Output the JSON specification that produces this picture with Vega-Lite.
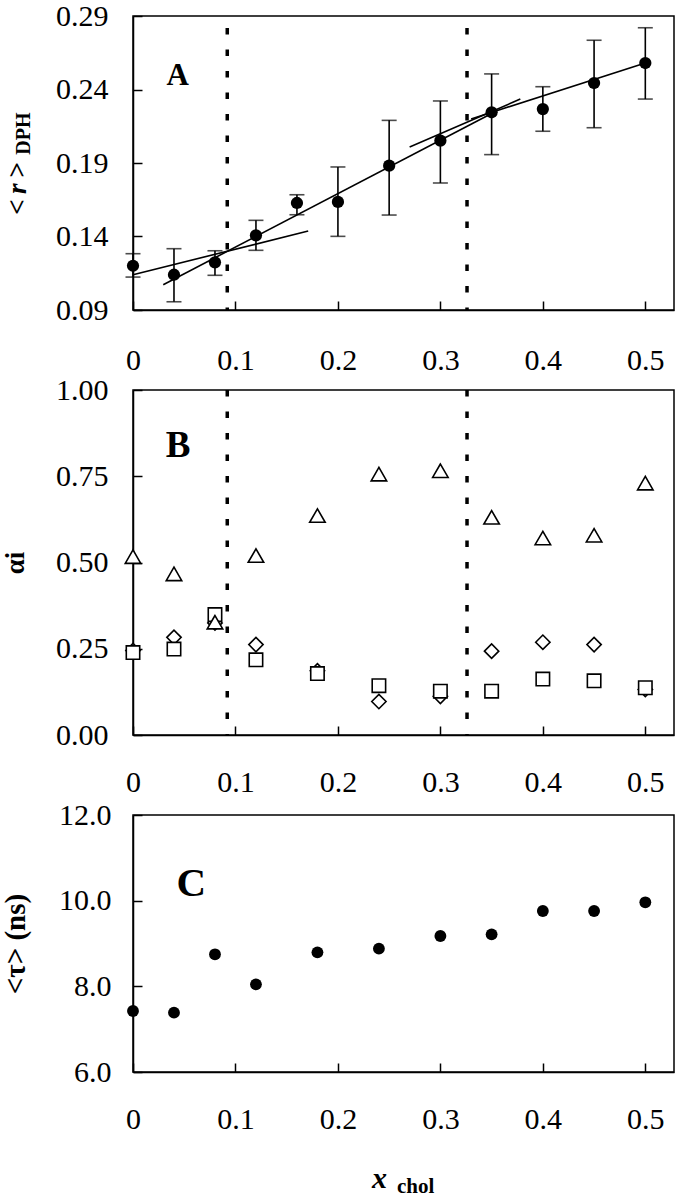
{
  "$schema": "https://vega.github.io/schema/vega-lite/v6.json",
  "background": "white",
  "autosize": {"type": "pad"},
  "padding": {"left": 0, "top": 0, "right": 5, "bottom": 0},
  "config": {
    "view": {"stroke": "black", "strokeWidth": 1.5},
    "axis": {
      "grid": false,
      "domainColor": "black", "domainWidth": 1.5,
      "tickColor": "black", "tickWidth": 1.5, "tickSize": -9,
      "labelFont": "Liberation Serif", "labelFontSize": 30, "labelColor": "black",
      "titleFont": "Liberation Serif", "titleFontSize": 27, "titleColor": "black", "titleFontWeight": "bold",
      "labelFlush": false, "labelOverlap": false
    }
  },
  "datasets": {
    "ptsA": [
      {"x": 0, "r": 0.1201, "lo": 0.1124, "hi": 0.1283},
      {"x": 0.04, "r": 0.114, "lo": 0.0956, "hi": 0.1317},
      {"x": 0.08, "r": 0.1224, "lo": 0.1136, "hi": 0.1303},
      {"x": 0.12, "r": 0.1408, "lo": 0.1306, "hi": 0.151},
      {"x": 0.16, "r": 0.1628, "lo": 0.1548, "hi": 0.1684},
      {"x": 0.2, "r": 0.1635, "lo": 0.1401, "hi": 0.1873},
      {"x": 0.25, "r": 0.1882, "lo": 0.1546, "hi": 0.219},
      {"x": 0.3, "r": 0.2052, "lo": 0.1764, "hi": 0.2322},
      {"x": 0.35, "r": 0.2245, "lo": 0.1957, "hi": 0.2506},
      {"x": 0.4, "r": 0.2267, "lo": 0.2116, "hi": 0.2419},
      {"x": 0.45, "r": 0.2444, "lo": 0.214, "hi": 0.2735},
      {"x": 0.5, "r": 0.258, "lo": 0.2335, "hi": 0.282}
    ],
    "fitA": [
      {"seg": 1, "x": 0, "r": 0.114},
      {"seg": 1, "x": 0.171, "r": 0.1437},
      {"seg": 2, "x": 0.0295, "r": 0.1072},
      {"seg": 2, "x": 0.35, "r": 0.2237},
      {"seg": 3, "x": 0.27, "r": 0.2009},
      {"seg": 3, "x": 0.378, "r": 0.2335},
      {"seg": 4, "x": 0.33, "r": 0.22},
      {"seg": 4, "x": 0.5, "r": 0.258}
    ],
    "vlines": [{"xv": 0.092}, {"xv": 0.326}],
    "alpha": [
      {"x": 0, "s": "tri", "a": 0.517}, {"x": 0.04, "s": "tri", "a": 0.467}, {"x": 0.08, "s": "tri", "a": 0.327},
      {"x": 0.12, "s": "tri", "a": 0.52}, {"x": 0.18, "s": "tri", "a": 0.636}, {"x": 0.24, "s": "tri", "a": 0.756},
      {"x": 0.3, "s": "tri", "a": 0.766}, {"x": 0.35, "s": "tri", "a": 0.631}, {"x": 0.4, "s": "tri", "a": 0.571},
      {"x": 0.45, "s": "tri", "a": 0.579}, {"x": 0.5, "s": "tri", "a": 0.73},
      {"x": 0, "s": "dia", "a": 0.245}, {"x": 0.04, "s": "dia", "a": 0.283}, {"x": 0.08, "s": "dia", "a": 0.325},
      {"x": 0.12, "s": "dia", "a": 0.262}, {"x": 0.18, "s": "dia", "a": 0.186}, {"x": 0.24, "s": "dia", "a": 0.097},
      {"x": 0.3, "s": "dia", "a": 0.112}, {"x": 0.35, "s": "dia", "a": 0.243}, {"x": 0.4, "s": "dia", "a": 0.269},
      {"x": 0.45, "s": "dia", "a": 0.262}, {"x": 0.5, "s": "dia", "a": 0.132},
      {"x": 0, "s": "sq", "a": 0.239}, {"x": 0.04, "s": "sq", "a": 0.249}, {"x": 0.08, "s": "sq", "a": 0.349},
      {"x": 0.12, "s": "sq", "a": 0.218}, {"x": 0.18, "s": "sq", "a": 0.178}, {"x": 0.24, "s": "sq", "a": 0.143},
      {"x": 0.3, "s": "sq", "a": 0.127}, {"x": 0.35, "s": "sq", "a": 0.127}, {"x": 0.4, "s": "sq", "a": 0.162},
      {"x": 0.45, "s": "sq", "a": 0.157}, {"x": 0.5, "s": "sq", "a": 0.137}
    ],
    "tau": [
      {"x": 0, "t": 7.424}, {"x": 0.04, "t": 7.385}, {"x": 0.08, "t": 8.748}, {"x": 0.12, "t": 8.047},
      {"x": 0.18, "t": 8.794}, {"x": 0.24, "t": 8.879}, {"x": 0.3, "t": 9.175}, {"x": 0.35, "t": 9.214},
      {"x": 0.4, "t": 9.759}, {"x": 0.45, "t": 9.759}, {"x": 0.5, "t": 9.962}
    ],
    "one": [{}]
  },
  "bounds": "flush",
  "spacing": 80,
  "vconcat": [
    {
      "width": 541, "height": 294,
      "layer": [
        {
          "data": {"name": "vlines"},
          "mark": {"type": "rule", "color": "black", "strokeWidth": 3.5, "strokeDash": [6.5, 15], "strokeDashOffset": 9.5},
          "encoding": {
            "x": {"field": "xv", "type": "quantitative", "scale": {"domain": [0, 0.528], "nice": false},
                  "axis": {"values": [0, 0.1, 0.2, 0.3, 0.4, 0.5], "format": "~g", "title": null, "labelPadding": 44}}
          }
        },
        {
          "data": {"name": "fitA"},
          "mark": {"type": "line", "color": "black", "strokeWidth": 1.6},
          "encoding": {
            "x": {"field": "x", "type": "quantitative"},
            "y": {"field": "r", "type": "quantitative", "scale": {"domain": [0.09, 0.29], "nice": false, "zero": false},
                  "axis": {"values": [0.09, 0.14, 0.19, 0.24, 0.29], "format": ".2f", "title": null, "labelPadding": 34}},
            "detail": {"field": "seg", "type": "nominal"}
          }
        },
        {
          "data": {"name": "ptsA"},
          "mark": {"type": "rule", "color": "black", "strokeWidth": 1.6},
          "encoding": {
            "x": {"field": "x", "type": "quantitative"},
            "y": {"field": "lo", "type": "quantitative"},
            "y2": {"field": "hi"}
          }
        },
        {
          "data": {"name": "ptsA"},
          "mark": {"type": "tick", "orient": "horizontal", "color": "black", "size": 15, "thickness": 1.6},
          "encoding": {"x": {"field": "x", "type": "quantitative"}, "y": {"field": "lo", "type": "quantitative"}}
        },
        {
          "data": {"name": "ptsA"},
          "mark": {"type": "tick", "orient": "horizontal", "color": "black", "size": 15, "thickness": 1.6},
          "encoding": {"x": {"field": "x", "type": "quantitative"}, "y": {"field": "hi", "type": "quantitative"}}
        },
        {
          "data": {"name": "ptsA"},
          "mark": {"type": "point", "shape": "circle", "filled": true, "color": "black", "opacity": 1, "size": 150},
          "encoding": {"x": {"field": "x", "type": "quantitative"}, "y": {"field": "r", "type": "quantitative"}}
        },
        {
          "data": {"name": "one"},
          "mark": {"type": "text", "text": "A", "font": "Liberation Serif", "fontWeight": "bold", "fontSize": 31, "align": "center", "baseline": "alphabetic", "color": "black"},
          "encoding": {"x": {"datum": 0.0436}, "y": {"datum": 0.2428}}
        },
        {
          "data": {"name": "one"},
          "mark": {"type": "text", "text": "<", "font": "Liberation Serif", "fontWeight": "bold", "fontSize": 27, "align": "left", "baseline": "alphabetic", "angle": -90, "color": "black"},
          "encoding": {"x": {"datum": -0.1044}, "y": {"datum": 0.1548}}
        },
        {
          "data": {"name": "one"},
          "mark": {"type": "text", "text": "r", "font": "Liberation Serif", "fontWeight": "bold", "fontStyle": "italic", "fontSize": 27, "align": "left", "baseline": "alphabetic", "angle": -90, "color": "black"},
          "encoding": {"x": {"datum": -0.1044}, "y": {"datum": 0.1689}}
        },
        {
          "data": {"name": "one"},
          "mark": {"type": "text", "text": ">", "font": "Liberation Serif", "fontWeight": "bold", "fontSize": 27, "align": "left", "baseline": "alphabetic", "angle": -90, "color": "black"},
          "encoding": {"x": {"datum": -0.1044}, "y": {"datum": 0.1801}}
        },
        {
          "data": {"name": "one"},
          "mark": {"type": "text", "text": "DPH", "font": "Liberation Serif", "fontWeight": "bold", "fontSize": 20, "align": "left", "baseline": "alphabetic", "angle": -90, "color": "black"},
          "encoding": {"x": {"datum": -0.1005}, "y": {"datum": 0.1956}}
        }
      ]
    },
    {
      "width": 541, "height": 345,
      "layer": [
        {
          "data": {"name": "vlines"},
          "mark": {"type": "rule", "color": "black", "strokeWidth": 3.5, "strokeDash": [6.5, 15]},
          "encoding": {
            "x": {"field": "xv", "type": "quantitative", "scale": {"domain": [0, 0.528], "nice": false},
                  "axis": {"values": [0, 0.1, 0.2, 0.3, 0.4, 0.5], "format": "~g", "title": null, "labelPadding": 41}}
          }
        },
        {
          "data": {"name": "alpha"},
          "transform": [{"filter": "datum.s === 'dia'"}],
          "mark": {"type": "point", "shape": "diamond", "filled": false, "fill": "white", "fillOpacity": 1, "stroke": "black", "strokeWidth": 1.6, "opacity": 1, "size": 205},
          "encoding": {
            "x": {"field": "x", "type": "quantitative"},
            "y": {"field": "a", "type": "quantitative", "scale": {"domain": [0, 1], "nice": false},
                  "axis": {"values": [0, 0.25, 0.5, 0.75, 1], "format": ".2f", "title": "αi", "titlePadding": 26, "labelPadding": 34}}
          }
        },
        {
          "data": {"name": "alpha"},
          "transform": [{"filter": "datum.s === 'sq'"}],
          "mark": {"type": "point", "shape": "square", "filled": false, "fill": "white", "fillOpacity": 1, "stroke": "black", "strokeWidth": 1.6, "opacity": 1, "size": 180},
          "encoding": {"x": {"field": "x", "type": "quantitative"}, "y": {"field": "a", "type": "quantitative"}}
        },
        {
          "data": {"name": "alpha"},
          "transform": [{"filter": "datum.s === 'tri'"}],
          "mark": {"type": "point", "shape": "triangle-up", "filled": false, "fill": "white", "fillOpacity": 1, "stroke": "black", "strokeWidth": 1.6, "opacity": 1, "size": 240},
          "encoding": {"x": {"field": "x", "type": "quantitative"}, "y": {"field": "a", "type": "quantitative"}}
        },
        {
          "data": {"name": "one"},
          "mark": {"type": "text", "text": "B", "font": "Liberation Serif", "fontWeight": "bold", "fontSize": 37, "align": "center", "baseline": "alphabetic", "color": "black"},
          "encoding": {"x": {"datum": 0.044}, "y": {"datum": 0.805}}
        }
      ]
    },
    {
      "width": 541, "height": 257,
      "layer": [
        {
          "data": {"name": "tau"},
          "mark": {"type": "point", "shape": "circle", "filled": true, "color": "black", "opacity": 1, "size": 140},
          "encoding": {
            "x": {"field": "x", "type": "quantitative", "scale": {"domain": [0, 0.528], "nice": false},
                  "axis": {"values": [0, 0.1, 0.2, 0.3, 0.4, 0.5], "format": "~g", "title": null, "labelPadding": 41}},
            "y": {"field": "t", "type": "quantitative", "scale": {"domain": [6, 12], "nice": false, "zero": false},
                  "axis": {"values": [6, 8, 10, 12], "format": ".1f", "title": "<τ> (ns)", "titleFontSize": 29, "titlePadding": 28, "labelPadding": 31}}
          }
        },
        {
          "data": {"name": "one"},
          "mark": {"type": "text", "text": "C", "font": "Liberation Serif", "fontWeight": "bold", "fontSize": 41, "align": "center", "baseline": "alphabetic", "color": "black"},
          "encoding": {"x": {"datum": 0.057}, "y": {"datum": 10.11}}
        },
        {
          "data": {"name": "one"},
          "mark": {"type": "text", "text": "x", "font": "Liberation Serif", "fontWeight": "bold", "fontStyle": "italic", "fontSize": 30, "align": "left", "baseline": "alphabetic", "color": "black"},
          "encoding": {"x": {"datum": 0.2333}, "y": {"datum": 3.3}}
        },
        {
          "data": {"name": "one"},
          "mark": {"type": "text", "text": "chol", "font": "Liberation Serif", "fontWeight": "bold", "fontSize": 21, "align": "left", "baseline": "alphabetic", "color": "black"},
          "encoding": {"x": {"datum": 0.2577}, "y": {"datum": 3.185}}
        }
      ]
    }
  ]
}
